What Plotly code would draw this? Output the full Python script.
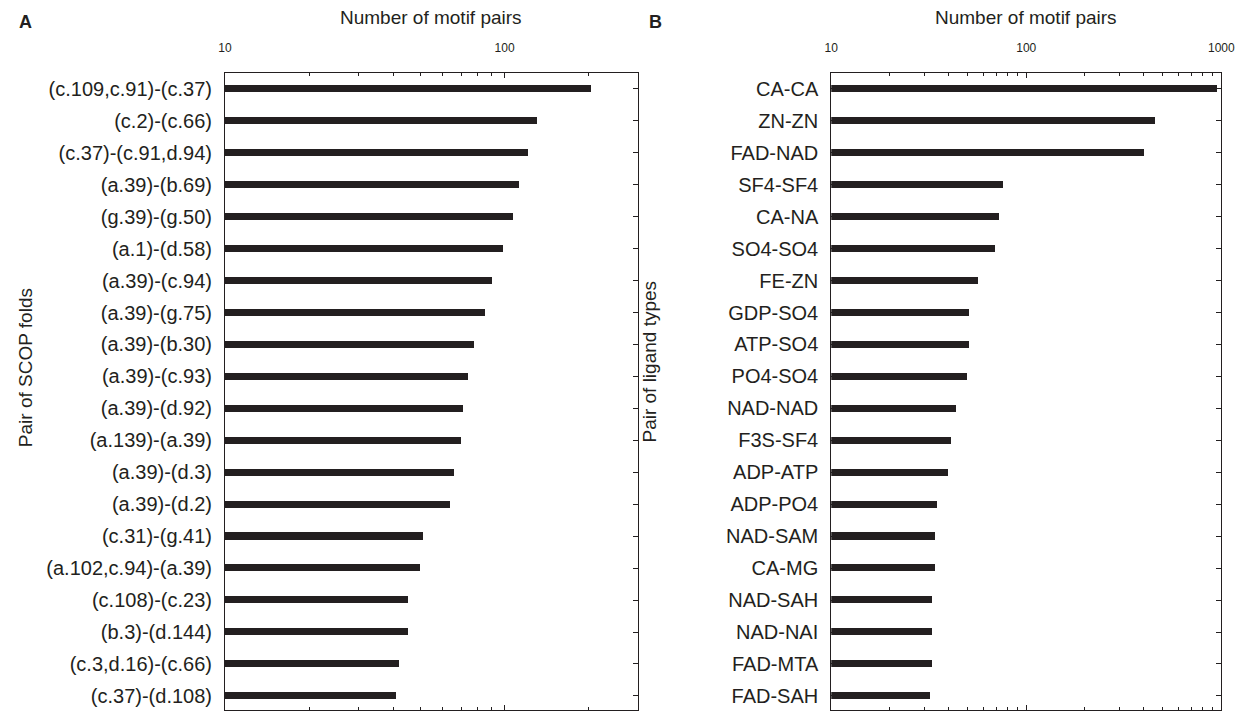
import plotly.graph_objects as go

# Panel A data
scop_pairs = ["(c.109,c.91)-(c.37)", "(c.2)-(c.66)", "(c.37)-(c.91,d.94)", "(a.39)-(b.69)",
              "(g.39)-(g.50)", "(a.1)-(d.58)", "(a.39)-(c.94)", "(a.39)-(g.75)",
              "(a.39)-(b.30)", "(a.39)-(c.93)", "(a.39)-(d.92)", "(a.139)-(a.39)",
              "(a.39)-(d.3)", "(a.39)-(d.2)", "(c.31)-(g.41)", "(a.102,c.94)-(a.39)",
              "(c.108)-(c.23)", "(b.3)-(d.144)", "(c.3,d.16)-(c.66)", "(c.37)-(d.108)"]
scop_counts = [203, 131, 121, 113, 107, 99, 90, 85, 78, 74, 71, 70, 66, 64, 51, 50, 45, 45, 42, 41]

# Panel B data
ligand_pairs = ["CA-CA", "ZN-ZN", "FAD-NAD", "SF4-SF4", "CA-NA", "SO4-SO4", "FE-ZN",
                "GDP-SO4", "ATP-SO4", "PO4-SO4", "NAD-NAD", "F3S-SF4", "ADP-ATP",
                "ADP-PO4", "NAD-SAM", "CA-MG", "NAD-SAH", "NAD-NAI", "FAD-MTA", "FAD-SAH"]
ligand_counts = [951, 456, 401, 76, 73, 69, 57, 51, 51, 50, 44, 41, 40, 35, 34, 34, 33, 33, 33, 32]

a_ticks = [10, 100]
b_ticks = [10, 100, 1000]
a_minor = [20, 30, 40, 50, 60, 70, 80, 90, 200]
b_minor = [20, 30, 40, 50, 60, 70, 80, 90, 200, 300, 400, 500, 600, 700, 800, 900]

W, H = 1253, 711
INK = "#231f20"
FONT = "Liberation Sans, Arial, Helvetica, sans-serif"
BAR = "#231f20"

fig = go.Figure()
fig.add_trace(go.Bar(y=scop_pairs, x=scop_counts, orientation="h", width=0.22,
                     marker=dict(color=BAR, line=dict(width=0)),
                     xaxis="x", yaxis="y", showlegend=False))
fig.add_trace(go.Bar(y=ligand_pairs, x=ligand_counts, orientation="h", width=0.22,
                     marker=dict(color=BAR, line=dict(width=0)),
                     xaxis="x2", yaxis="y2", showlegend=False))

top = 73.3
ydom = [0, 1 - top / H]
yrange = [19.44, -0.49]

def xax(domain, rng, ticks, minor, anchor):
    return dict(domain=domain, type="log", range=rng, side="top", anchor=anchor,
                tickvals=ticks, ticktext=[str(t) for t in ticks],
                ticks="inside", ticklen=5, tickwidth=1, tickcolor=INK,
                minor=dict(tickvals=minor, ticks="inside", ticklen=3, tickwidth=1, tickcolor=INK),
                showline=True, linecolor=INK, linewidth=1, mirror="ticks",
                showgrid=False, zeroline=False,
                tickfont=dict(family=FONT, size=12, color=INK),
                ticklabelstandoff=15)

def yax(domain, anchor, cats):
    return dict(domain=domain, anchor=anchor, type="category", categoryorder="array",
                categoryarray=cats, range=yrange,
                ticks="inside", ticklen=5, tickwidth=1, tickcolor=INK,
                showline=True, linecolor=INK, linewidth=1, mirror="ticks",
                showgrid=False, zeroline=False,
                tickfont=dict(family=FONT, size=20, color=INK),
                ticklabelstandoff=8)

ax_a = [221.7 / W, 641.7 / W]
ax_b = [838.3 / W, 1235 / W]

fig.update_layout(
    width=W, height=H,
    margin=dict(l=0, r=0, t=0, b=0),
    paper_bgcolor="white", plot_bgcolor="white",
    xaxis=xax(ax_a, [1, 2.4771], a_ticks, a_minor, "y"),
    yaxis=yax(ydom, "x", scop_pairs),
    xaxis2=xax(ax_b, [1, 3], b_ticks, b_minor, "y2"),
    yaxis2=yax(ydom, "x2", ligand_pairs),
    bargap=0,
)

ann_font = dict(family=FONT, size=19, color=INK)
annotations = [
    dict(text="<b>A</b>", x=10 / W, y=1 - 22 / H, xref="paper", yref="paper",
         xanchor="left", yanchor="middle", showarrow=False,
         font=dict(family=FONT, size=18, color=INK)),
    dict(text="<b>B</b>", x=651 / W, y=1 - 22 / H, xref="paper", yref="paper",
         xanchor="left", yanchor="middle", showarrow=False,
         font=dict(family=FONT, size=18, color=INK)),
    dict(text="Number of motif pairs", x=(ax_a[0] + ax_a[1]) / 2, y=1 - 18 / H,
         xref="paper", yref="paper", xanchor="center", yanchor="middle",
         showarrow=False, font=ann_font),
    dict(text="Number of motif pairs", x=(ax_b[0] + ax_b[1]) / 2, y=1 - 18 / H,
         xref="paper", yref="paper", xanchor="center", yanchor="middle",
         showarrow=False, font=ann_font),
    dict(text="Pair of SCOP folds", x=19 / W, y=1 - 368 / H, xref="paper", yref="paper",
         xanchor="center", yanchor="middle", textangle=-90, showarrow=False, font=ann_font),
    dict(text="Pair of ligand types", x=653 / W, y=1 - 362 / H, xref="paper", yref="paper",
         xanchor="center", yanchor="middle", textangle=-90, showarrow=False, font=ann_font),
]
fig.update_layout(annotations=annotations)

fig.write_html("out.html")
